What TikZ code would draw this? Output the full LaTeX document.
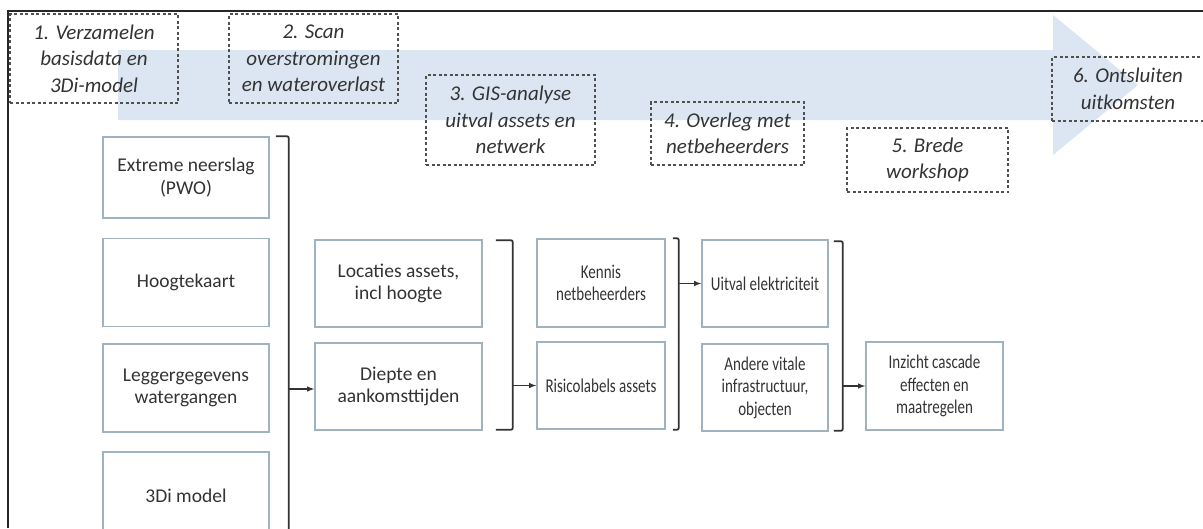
\documentclass[tikz,border=0pt]{standalone}
\usepackage{fontspec}
\setmainfont{Carlito}
\newfontfamily\narrowfont[FakeStretch=0.77]{Carlito}
\usepackage{tikz}
\usetikzlibrary{calc,arrows}
\definecolor{arrowblue}{HTML}{DCE6F2}
\definecolor{boxline}{HTML}{9FB2BE}
\definecolor{txtgray}{HTML}{333333}
\definecolor{dashgray}{HTML}{505050}
\tikzset{
  stepbox/.style={draw=dashgray, line width=1.3pt, dash pattern=on 3pt off 2.5pt,
    align=center, text=txtgray, font=\fontsize{21}{26.5}\selectfont\itshape, inner sep=0pt},
  databox/.style={draw=boxline, line width=1.6pt, align=center, text=txtgray,
    font=\fontsize{19.5}{22.5}\selectfont, inner sep=0pt,
    minimum width=166pt, minimum height=88pt},
  smallbox/.style={databox, font=\fontsize{19.5}{22.5}\narrowfont},
  bracket/.style={draw=black!80, line width=1.8pt, rounded corners=2pt},
  flow/.style={draw=black!80, line width=1.4pt, -latex}
}

\begin{document}
\begin{tikzpicture}[x=1pt,y=-1pt]
        \useasboundingbox (0,0) rectangle (1203,528);
        % big process arrow
        \fill[arrowblue] (118,50) -- (1053,50) -- (1053,15) -- (1138,85)
            -- (1053,155) -- (1053,120) -- (118,120) -- cycle;
        \draw[line width=2.5pt, black!85] (8,528) -- (8,11) -- (1203,11);
        % steps
        \node[stepbox, minimum width=168pt, minimum height=89pt] (stepA) at (94,58.5)
            {1. Verzamelen\\basisdata en\\3Di-model};
        \node[stepbox, minimum width=169pt, minimum height=89pt] (stepB) at (313.5,58.5)
            {2. Scan\\overstromingen\\en wateroverlast};
        \node[stepbox, minimum width=169pt, minimum height=90pt] (stepC) at (510.5,120)
            {3. GIS-analyse\\uitval assets en\\netwerk};
        \node[stepbox, minimum width=153pt, minimum height=63pt] (stepD) at (727.5,133.5)
            {4. Overleg met\\netbeheerders};
        \node[stepbox, minimum width=161pt, minimum height=64pt] (stepE) at (927.5,160)
            {5. Brede\\workshop};
        \node[stepbox, minimum width=152pt, minimum height=64pt] (stepF) at (1128,89)
            {6. Ontsluiten\\uitkomsten};
        % inputs
        \node[databox, minimum height=81pt] (pwo) at (186,177.5) {Extreme neerslag\\(PWO)};
        \node[databox] (hoogte) at (186,282.5) {Hoogtekaart};
        \node[databox] (legger) at (186,388) {Leggergegevens\\watergangen};
        \node[databox] (model) at (186,496) {3Di model};
        \node[databox, minimum width=167pt, minimum height=87pt] (locaties) at (398.5,283.5)
            {Locaties assets,\\incl hoogte};
        \node[databox, minimum width=167pt, minimum height=87pt] (diepte) at (398.5,386.5)
            {Diepte en\\aankomsttijden};
        \node[smallbox, minimum width=128pt] (kennis) at (601,283) {Kennis\\netbeheerders};
        \node[smallbox, minimum width=128pt, minimum height=87pt] (risico) at (601,385.5)
            {Risicolabels assets};
        \node[smallbox, minimum width=126pt, minimum height=87pt] (uitval) at (765,283.5)
            {Uitval elektriciteit};
        \node[smallbox, minimum width=126pt, minimum height=87pt] (andere) at (765,387.5)
            {Andere vitale\\infrastructuur,\\objecten};
        \node[smallbox, minimum width=137pt] (inzicht) at (934.5,386)
            {Inzicht cascade\\effecten en\\maatregelen};
        % brackets and arrows
        \coordinate (brA) at ($(pwo.north east)+(19,0)$);
        \draw[bracket] ($(pwo.north east)+(6,0)$) -- (brA) -- ($(model.south east)+(19,0)$);
        \draw[flow] ($(diepte.west -| brA)+(0,2.5)$) -- ($(diepte.west)+(0,2.5)$);
        \coordinate (brB) at ($(locaties.north east)+(30,1)$);
        \draw[bracket] ($(locaties.north east)+(13,1)$) -- (brB)
            -- ($(diepte.south east)+(30,-1)$) -- ($(diepte.south east)+(13,-1)$);
        \draw[flow] (risico.west -| brB) -- (risico.west);
        \coordinate (brC) at ($(kennis.north east)+(13,0)$);
        \draw[bracket] ($(kennis.north east)+(7,0)$) -- (brC)
            -- ($(risico.south east)+(13,0)$) -- ($(risico.south east)+(7,0)$);
        \draw[flow] (uitval.west -| brC) -- (uitval.west);
        \coordinate (brD) at ($(uitval.north east)+(14,2)$);
        \draw[bracket] ($(uitval.north east)+(5,2)$) -- (brD)
            -- ($(andere.south east)+(14,-1)$) -- ($(andere.south east)+(5,-1)$);
        \draw[flow] (inzicht.west -| brD) -- (inzicht.west);
\end{tikzpicture}
\end{document}
